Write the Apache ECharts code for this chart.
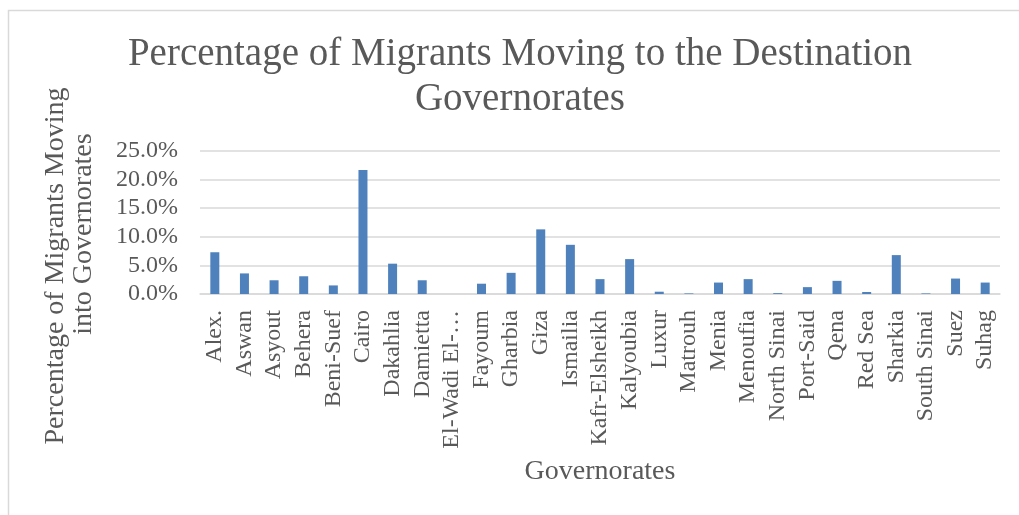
<!DOCTYPE html>
<html>
<head>
<meta charset="utf-8">
<script src="https://cdn.jsdelivr.net/npm/echarts@6/dist/echarts.min.js"></script>
<style>
html,body{margin:0;padding:0;background:#fff;}
#chart{width:1019px;height:515px;}
</style>
</head>
<body>
<div id="chart"></div>
<script>
var categories = ["Alex.","Aswan","Asyout","Behera","Beni-Suef","Cairo","Dakahlia","Damietta","El-Wadi El-Gedid","Fayoum","Gharbia","Giza","Ismailia","Kafr-Elsheikh","Kalyoubia","Luxur","Matrouh","Menia","Menoufia","North Sinai","Port-Said","Qena","Red Sea","Sharkia","South Sinai","Suez","Suhag"];
var values = [7.3,3.6,2.4,3.1,1.5,21.7,5.3,2.4,0.0,1.8,3.7,11.3,8.6,2.6,6.1,0.4,0.1,2.0,2.6,0.15,1.2,2.3,0.35,6.8,0.1,2.7,2.0];
var yTicks = {min:0, max:25, interval:5};
var titleText = "Percentage of Migrants Moving to the Destination\nGovernorates";
var yNameLines = ["Percentage of Migrants Moving","into Governorates"];
var xName = "Governorates";

var FONT = "Liberation Serif";
var GREY = "#595959";
var chart = echarts.init(document.getElementById('chart'));
chart.setOption({
  animation:false,
  backgroundColor:'#fff',
  textStyle:{fontFamily:FONT},
  title:{
    text:titleText, left:515, top:27, textAlign:'center',
    textStyle:{fontFamily:FONT,fontSize:39,fontWeight:'normal',color:GREY,lineHeight:45}
  },
  grid:{left:200,right:19,top:151,bottom:221},
  xAxis:{
    type:'category', data:categories,
    name:xName, nameLocation:'middle', nameGap:164,
    nameTextStyle:{fontFamily:FONT,fontSize:28,color:GREY},
    axisLine:{lineStyle:{color:'#d9d9d9',width:1.5}},
    axisTick:{show:false},
    axisLabel:{rotate:90,interval:0,margin:16,fontFamily:FONT,fontSize:24,color:GREY,
      formatter:function(s){return s.length>14 ? s.slice(0,11)+'…' : s;}}
  },
  yAxis:{
    type:'value', min:yTicks.min, max:yTicks.max, interval:yTicks.interval,
    axisLine:{show:false}, axisTick:{show:false},
    splitLine:{lineStyle:{color:'#d9d9d9',width:1.5}},
    axisLabel:{margin:22,fontFamily:FONT,fontSize:24,color:GREY,
      formatter:function(v){return v.toFixed(1)+'%';}}
  },
  series:[{
    type:'bar', data:values, barWidth:9,
    itemStyle:{color:'#4F81BD'}
  }],
  graphic:[
    {type:'rect',shape:{x:8.5,y:10.5,width:1030,height:530},style:{fill:'none',stroke:'#d9d9d9',lineWidth:1.5},silent:true},
    {type:'text',x:56,y:266,rotation:Math.PI/2,style:{text:yNameLines[0],font:'28px "'+FONT+'"',fill:GREY,align:'center',verticalAlign:'middle'}},
    {type:'text',x:84,y:234,rotation:Math.PI/2,style:{text:yNameLines[1],font:'28px "'+FONT+'"',fill:GREY,align:'center',verticalAlign:'middle'}}
  ]
});
</script>
</body>
</html>
